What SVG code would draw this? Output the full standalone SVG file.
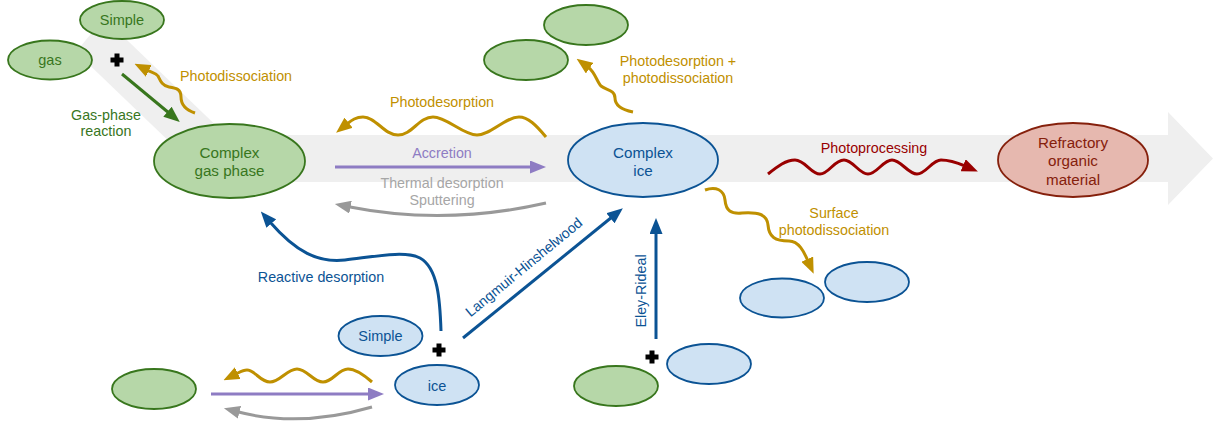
<svg xmlns="http://www.w3.org/2000/svg" width="1221" height="425" viewBox="0 0 1221 425">
<style>
text{font-family:"Liberation Sans",Arial,sans-serif;}
.lbl{font-size:14.3px;}
.big{font-size:15.2px;text-anchor:middle;}
.sm{font-size:14.5px;text-anchor:middle;}
.mid{text-anchor:middle;}
.g{fill:#b6d7a8;stroke:#38761d;stroke-width:1.8;}
.b{fill:#cfe2f3;stroke:#0b5394;stroke-width:1.8;}
.r{fill:#e6b8af;stroke:#85200c;stroke-width:1.8;}
.tg{fill:#38761d;}
.tb{fill:#0b5394;}
.tr{fill:#85200c;}
.tgold{fill:#bf9000;}
.tgray{fill:#a6a6a6;}
.tpur{fill:#8e7cc3;}
.tred{fill:#990000;}
.c{fill:none;stroke-width:3;stroke-linecap:butt;stroke-linejoin:round;}
.cg{stroke:#38761d;marker-end:url(#ag);}
.cgold{stroke:#bf9000;marker-end:url(#agold);}
.cpur{stroke:#8e7cc3;marker-end:url(#apur);}
.cgray{stroke:#999999;marker-end:url(#agray);}
.cb{stroke:#0b5394;marker-end:url(#ab);}
.cred{stroke:#990000;marker-end:url(#ared);}
.plus{fill:none;stroke:#000;stroke-width:5;}
</style>
<defs>
<marker id="ag" viewBox="0 0 16 13" markerWidth="16" markerHeight="13" markerUnits="userSpaceOnUse" refX="2" refY="6.5" orient="auto"><path d="M0,0 L16,6.5 L0,13 z" fill="#38761d"/></marker>
<marker id="agold" viewBox="0 0 16 13" markerWidth="16" markerHeight="13" markerUnits="userSpaceOnUse" refX="2" refY="6.5" orient="auto"><path d="M0,0 L16,6.5 L0,13 z" fill="#bf9000"/></marker>
<marker id="apur" viewBox="0 0 16 13" markerWidth="16" markerHeight="13" markerUnits="userSpaceOnUse" refX="2" refY="6.5" orient="auto"><path d="M0,0 L16,6.5 L0,13 z" fill="#8e7cc3"/></marker>
<marker id="agray" viewBox="0 0 16 13" markerWidth="16" markerHeight="13" markerUnits="userSpaceOnUse" refX="2" refY="6.5" orient="auto"><path d="M0,0 L16,6.5 L0,13 z" fill="#999999"/></marker>
<marker id="ab" viewBox="0 0 16 13" markerWidth="16" markerHeight="13" markerUnits="userSpaceOnUse" refX="2" refY="6.5" orient="auto"><path d="M0,0 L16,6.5 L0,13 z" fill="#0b5394"/></marker>
<marker id="ared" viewBox="0 0 16 13" markerWidth="16" markerHeight="13" markerUnits="userSpaceOnUse" refX="2" refY="6.5" orient="auto"><path d="M0,0 L16,6.5 L0,13 z" fill="#990000"/></marker>
</defs>
<rect width="1221" height="425" fill="#ffffff"/>

<g id="background-bands" fill="#efefef">
<polygon points="104,18 229,138 201,172 76,52"/>
<polygon points="229,135 1168,135 1168,112 1213,158.5 1168,205 1168,182 229,182"/>
</g>

<g id="connectors">
<path class="c cg" d="M122,74 L169,113"/>
<path class="c cgold" d="M195,113 C186,110 181,104 181,97 C181,89 176,88 169,87 C162,86 160,80 158,76 C156,73 153,73 147,70"/>
<path class="c cgold" d="M546,137 C536,125 528,117 519,117 C505,117 491,135 477,135 C463,135 447,117 433,117 C419,117 412,135 398,135 C384,135 376,117 363,117 C356,117 352,120 347,124"/>
<path class="c cpur" d="M335,167 L532,167"/>
<path class="c cgray" d="M546,203 Q445,226 348.6,206.8"/>
<path class="c cgold" d="M633,112 C623,110 615,106 615,98 C615,90 606,90 601,86 C597,82 595,72 588,67"/>
<path class="c cred" d="M768,174 C778,166 786,160 795,160 C805,160 811,174 820,174 C829,174 834,160 844,160 C853,160 859,174 868,174 C877,174 883,160 892,160 C901,160 908,174 917,174 C926,174 932,160 941,160 C950,160 958,163 965,166"/>
<path class="c cgold" d="M705,190 C716,186 724,190 725,200 C726,211 731,214 742,213 C758,212 767,214 768,225 C769,237 775,241 789,241 C799,241 804,252 808,261"/>
<path class="c cb" d="M441,331 C440,300 438,268 420,258 C405,250 372,257 345,260 C318,263 296,252 270,222"/>
<path class="c cb" d="M463,338 L612,217"/>
<path class="c cb" d="M656,339 L656,232"/>
<path class="c cgold" d="M372,382 C364,375 356,369 348,369 C338,369 333,382 323,382 C313,382 307,369 297,369 C287,369 280,382 270,382 C260,382 255,370 247,370 C243,370 240,372 236,374"/>
<path class="c cpur" d="M211,394 L370,394"/>
<path class="c cgray" d="M372,407 Q300,428 237.5,411.8"/>
</g>

<g id="labels">
<text class="lbl tgold" x="180" y="81">Photodissociation</text>
<text class="lbl tg mid" x="106" y="120">Gas-phase</text>
<text class="lbl tg mid" x="106" y="136">reaction</text>
<text class="lbl tgold mid" x="442" y="107">Photodesorption</text>
<text class="lbl tpur mid" x="442" y="158">Accretion</text>
<text class="lbl tgray mid" x="442" y="188">Thermal desorption</text>
<text class="lbl tgray mid" x="442" y="205">Sputtering</text>
<text class="lbl tgold mid" x="678" y="66">Photodesorption +</text>
<text class="lbl tgold mid" x="678" y="83">photodissociation</text>
<text class="lbl tred mid" x="874" y="153">Photoprocessing</text>
<text class="lbl tgold mid" x="834" y="218">Surface</text>
<text class="lbl tgold mid" x="834" y="235">photodissociation</text>
<text class="lbl tb mid" x="321" y="282">Reactive desorption</text>
<text class="lbl tb mid" transform="translate(527,271) rotate(-39.5)">Langmuir-Hinshelwood</text>
<text class="lbl tb mid" transform="translate(646,291) rotate(-90)">Eley-Rideal</text>
</g>

<g id="plus-signs">
<path class="plus" d="M110.5,60 H123.5 M117,53.5 V66.5"/>
<path class="plus" d="M432.5,350 H445.5 M439,343.5 V356.5"/>
<path class="plus" d="M645.5,357 H658.5 M652,350.5 V363.5"/>
</g>

<g id="node-simple-gas-top">
<ellipse class="g" cx="122" cy="20" rx="42" ry="19"/>
<text class="sm tg" x="122" y="25">Simple</text>
</g>
<g id="node-gas-top">
<ellipse class="g" cx="50" cy="60" rx="42" ry="19.5"/>
<text class="sm tg" x="50" y="65">gas</text>
</g>
<g id="node-complex-gas">
<ellipse class="g" cx="229.5" cy="161" rx="75.5" ry="37"/>
<text class="big tg" x="229.5" y="158">Complex</text>
<text class="big tg" x="229.5" y="176">gas phase</text>
</g>
<g id="node-gas-product-1">
<ellipse class="g" cx="586" cy="25" rx="42" ry="20"/>
</g>
<g id="node-gas-product-2">
<ellipse class="g" cx="526" cy="60" rx="42" ry="20"/>
</g>
<g id="node-complex-ice">
<ellipse class="b" cx="643" cy="160" rx="75" ry="37"/>
<text class="big tb" x="643" y="158">Complex</text>
<text class="big tb" x="643" y="176">ice</text>
</g>
<g id="node-refractory">
<ellipse class="r" cx="1073" cy="160" rx="75" ry="37"/>
<text class="big tr" x="1073" y="147.5">Refractory</text>
<text class="big tr" x="1073" y="166">organic</text>
<text class="big tr" x="1073" y="184.5">material</text>
</g>
<g id="node-ice-product-1">
<ellipse class="b" cx="782" cy="298" rx="42" ry="19.5"/>
</g>
<g id="node-ice-product-2">
<ellipse class="b" cx="867" cy="282" rx="42" ry="20"/>
</g>
<g id="node-simple-ice">
<ellipse class="b" cx="380.5" cy="336" rx="42" ry="20"/>
<text class="sm tb" x="380.5" y="341">Simple</text>
</g>
<g id="node-ice">
<ellipse class="b" cx="437" cy="385" rx="42" ry="20"/>
<text class="sm tb" x="437" y="391">ice</text>
</g>
<g id="node-gas-bottom-left">
<ellipse class="g" cx="154" cy="389" rx="42" ry="20"/>
</g>
<g id="node-gas-er">
<ellipse class="g" cx="616" cy="386" rx="42" ry="20"/>
</g>
<g id="node-ice-er">
<ellipse class="b" cx="709" cy="364" rx="42" ry="20"/>
</g>
</svg>
